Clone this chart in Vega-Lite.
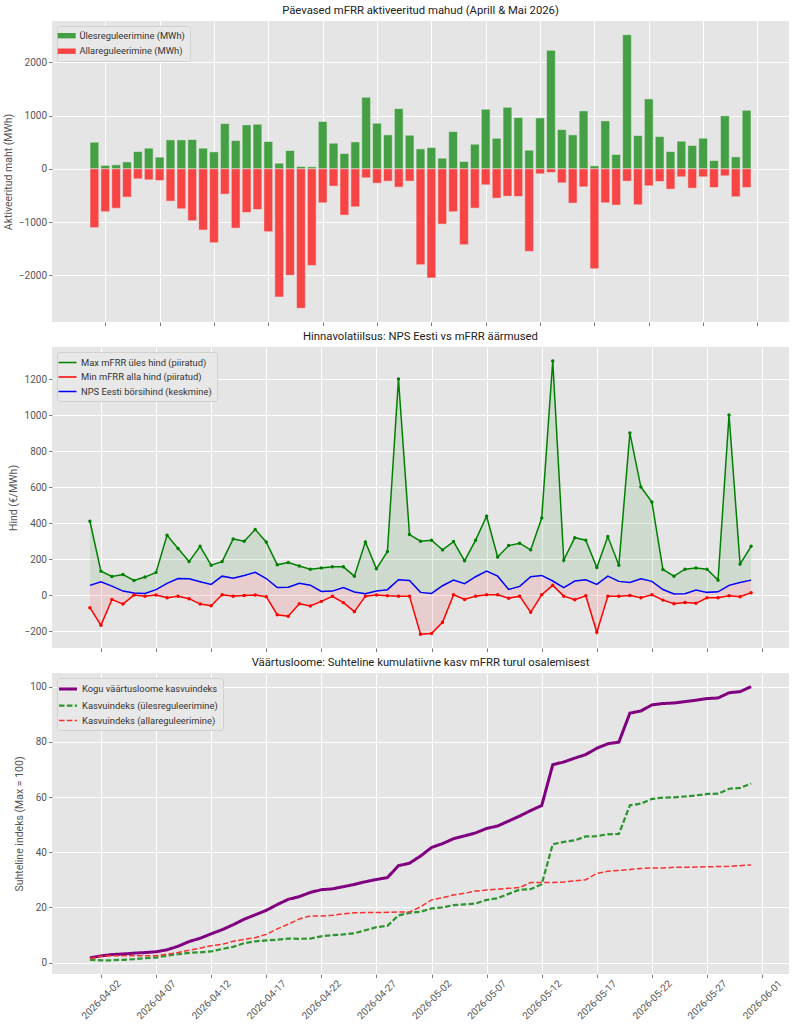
{
  "$schema": "https://vega.github.io/schema/vega-lite/v6.json",
  "background": "white",
  "padding": {"left": 3, "top": 4, "right": 6, "bottom": 2},
  "datasets": {
    "daily": [
      {"d": "2026-04-01", "up": 500, "down": -1105, "pmax": 410, "pmin": -70, "nps": 54, "total": 1.7, "iup": 1.0, "idown": 1.4},
      {"d": "2026-04-02", "up": 65, "down": -805, "pmax": 133, "pmin": -168, "nps": 74, "total": 2.4, "iup": 0.8, "idown": 2.3},
      {"d": "2026-04-03", "up": 75, "down": -740, "pmax": 103, "pmin": -24, "nps": 50, "total": 2.9, "iup": 0.8, "idown": 2.5},
      {"d": "2026-04-04", "up": 130, "down": -530, "pmax": 114, "pmin": -50, "nps": 22, "total": 3.1, "iup": 1.0, "idown": 2.5},
      {"d": "2026-04-05", "up": 325, "down": -188, "pmax": 81, "pmin": 0, "nps": 11, "total": 3.4, "iup": 1.2, "idown": 2.5},
      {"d": "2026-04-06", "up": 388, "down": -206, "pmax": 100, "pmin": -7, "nps": 9, "total": 3.6, "iup": 1.6, "idown": 2.5},
      {"d": "2026-04-07", "up": 219, "down": -219, "pmax": 126, "pmin": 0, "nps": 30, "total": 3.9, "iup": 1.8, "idown": 2.5},
      {"d": "2026-04-08", "up": 544, "down": -606, "pmax": 332, "pmin": -15, "nps": 65, "total": 4.6, "iup": 2.5, "idown": 3.0},
      {"d": "2026-04-09", "up": 544, "down": -750, "pmax": 259, "pmin": -6, "nps": 92, "total": 5.9, "iup": 3.0, "idown": 3.6},
      {"d": "2026-04-10", "up": 550, "down": -975, "pmax": 186, "pmin": -20, "nps": 90, "total": 7.6, "iup": 3.5, "idown": 4.5},
      {"d": "2026-04-11", "up": 388, "down": -1150, "pmax": 271, "pmin": -50, "nps": 74, "total": 8.8, "iup": 3.7, "idown": 5.2},
      {"d": "2026-04-12", "up": 319, "down": -1388, "pmax": 166, "pmin": -59, "nps": 59, "total": 10.4, "iup": 4.0, "idown": 6.1},
      {"d": "2026-04-13", "up": 850, "down": -475, "pmax": 186, "pmin": 2, "nps": 105, "total": 11.9, "iup": 4.9, "idown": 6.6},
      {"d": "2026-04-14", "up": 531, "down": -1113, "pmax": 312, "pmin": -6, "nps": 94, "total": 13.7, "iup": 5.7, "idown": 7.7},
      {"d": "2026-04-15", "up": 825, "down": -819, "pmax": 299, "pmin": -2, "nps": 109, "total": 15.7, "iup": 7.0, "idown": 8.4},
      {"d": "2026-04-16", "up": 838, "down": -763, "pmax": 364, "pmin": 0, "nps": 126, "total": 17.3, "iup": 7.7, "idown": 9.0},
      {"d": "2026-04-17", "up": 513, "down": -1181, "pmax": 295, "pmin": -9, "nps": 92, "total": 18.9, "iup": 8.0, "idown": 10.2},
      {"d": "2026-04-18", "up": 106, "down": -2406, "pmax": 168, "pmin": -109, "nps": 42, "total": 21.0, "iup": 8.3, "idown": 12.2},
      {"d": "2026-04-19", "up": 344, "down": -2000, "pmax": 181, "pmin": -118, "nps": 44, "total": 22.9, "iup": 8.7, "idown": 13.9},
      {"d": "2026-04-20", "up": 44, "down": -2619, "pmax": 162, "pmin": -48, "nps": 66, "total": 23.9, "iup": 8.6, "idown": 15.8},
      {"d": "2026-04-21", "up": 38, "down": -1813, "pmax": 144, "pmin": -61, "nps": 55, "total": 25.4, "iup": 8.7, "idown": 16.9},
      {"d": "2026-04-22", "up": 888, "down": -638, "pmax": 151, "pmin": -35, "nps": 20, "total": 26.4, "iup": 9.5, "idown": 16.9},
      {"d": "2026-04-23", "up": 481, "down": -325, "pmax": 157, "pmin": -7, "nps": 22, "total": 26.7, "iup": 9.9, "idown": 17.1},
      {"d": "2026-04-24", "up": 288, "down": -869, "pmax": 157, "pmin": -42, "nps": 42, "total": 27.5, "iup": 10.2, "idown": 17.7},
      {"d": "2026-04-25", "up": 506, "down": -713, "pmax": 105, "pmin": -92, "nps": 17, "total": 28.3, "iup": 10.6, "idown": 18.0},
      {"d": "2026-04-26", "up": 1344, "down": -169, "pmax": 295, "pmin": -6, "nps": 7, "total": 29.3, "iup": 11.7, "idown": 18.1},
      {"d": "2026-04-27", "up": 856, "down": -269, "pmax": 146, "pmin": 0, "nps": 22, "total": 30.1, "iup": 12.8, "idown": 18.1},
      {"d": "2026-04-28", "up": 638, "down": -231, "pmax": 242, "pmin": -4, "nps": 30, "total": 30.8, "iup": 13.3, "idown": 18.2},
      {"d": "2026-04-29", "up": 1131, "down": -344, "pmax": 1200, "pmin": -6, "nps": 85, "total": 35.1, "iup": 17.1, "idown": 18.3},
      {"d": "2026-04-30", "up": 631, "down": -231, "pmax": 336, "pmin": -6, "nps": 81, "total": 36.0, "iup": 18.0, "idown": 18.3},
      {"d": "2026-05-01", "up": 375, "down": -1800, "pmax": 299, "pmin": -218, "nps": 15, "total": 38.6, "iup": 18.4, "idown": 20.2},
      {"d": "2026-05-02", "up": 400, "down": -2050, "pmax": 305, "pmin": -214, "nps": 9, "total": 41.7, "iup": 19.6, "idown": 22.7},
      {"d": "2026-05-03", "up": 200, "down": -1038, "pmax": 251, "pmin": -151, "nps": 52, "total": 43.1, "iup": 20.0, "idown": 23.5},
      {"d": "2026-05-04", "up": 700, "down": -806, "pmax": 297, "pmin": 2, "nps": 83, "total": 44.9, "iup": 20.8, "idown": 24.5},
      {"d": "2026-05-05", "up": 138, "down": -1425, "pmax": 190, "pmin": -24, "nps": 63, "total": 45.9, "iup": 21.1, "idown": 25.1},
      {"d": "2026-05-06", "up": 463, "down": -738, "pmax": 305, "pmin": -6, "nps": 102, "total": 47.0, "iup": 21.4, "idown": 25.9},
      {"d": "2026-05-07", "up": 1119, "down": -300, "pmax": 438, "pmin": 2, "nps": 133, "total": 48.6, "iup": 22.7, "idown": 26.3},
      {"d": "2026-05-08", "up": 575, "down": -550, "pmax": 212, "pmin": 2, "nps": 105, "total": 49.5, "iup": 23.3, "idown": 26.6},
      {"d": "2026-05-09", "up": 1156, "down": -513, "pmax": 275, "pmin": -18, "nps": 31, "total": 51.3, "iup": 24.9, "idown": 26.9},
      {"d": "2026-05-10", "up": 963, "down": -519, "pmax": 288, "pmin": -6, "nps": 48, "total": 53.1, "iup": 26.4, "idown": 27.2},
      {"d": "2026-05-11", "up": 350, "down": -1550, "pmax": 251, "pmin": -96, "nps": 102, "total": 55.1, "iup": 26.6, "idown": 29.0},
      {"d": "2026-05-12", "up": 956, "down": -94, "pmax": 428, "pmin": 2, "nps": 109, "total": 56.9, "iup": 28.4, "idown": 29.0},
      {"d": "2026-05-13", "up": 2225, "down": -69, "pmax": 1300, "pmin": 54, "nps": 78, "total": 71.7, "iup": 42.9, "idown": 29.0},
      {"d": "2026-05-14", "up": 738, "down": -263, "pmax": 194, "pmin": -6, "nps": 41, "total": 72.7, "iup": 43.7, "idown": 29.2},
      {"d": "2026-05-15", "up": 638, "down": -644, "pmax": 319, "pmin": -26, "nps": 78, "total": 74.1, "iup": 44.3, "idown": 29.6},
      {"d": "2026-05-16", "up": 1088, "down": -338, "pmax": 305, "pmin": -4, "nps": 85, "total": 75.4, "iup": 45.7, "idown": 30.0},
      {"d": "2026-05-17", "up": 56, "down": -1875, "pmax": 153, "pmin": -207, "nps": 59, "total": 77.7, "iup": 45.8, "idown": 32.3},
      {"d": "2026-05-18", "up": 900, "down": -638, "pmax": 325, "pmin": -6, "nps": 105, "total": 79.3, "iup": 46.5, "idown": 33.1},
      {"d": "2026-05-19", "up": 269, "down": -681, "pmax": 166, "pmin": -6, "nps": 76, "total": 79.9, "iup": 46.6, "idown": 33.4},
      {"d": "2026-05-20", "up": 2519, "down": -231, "pmax": 900, "pmin": -2, "nps": 70, "total": 90.4, "iup": 57.0, "idown": 33.7},
      {"d": "2026-05-21", "up": 625, "down": -675, "pmax": 600, "pmin": -15, "nps": 90, "total": 91.2, "iup": 57.6, "idown": 34.1},
      {"d": "2026-05-22", "up": 1313, "down": -319, "pmax": 517, "pmin": 2, "nps": 76, "total": 93.4, "iup": 59.3, "idown": 34.3},
      {"d": "2026-05-23", "up": 606, "down": -238, "pmax": 142, "pmin": -28, "nps": 31, "total": 93.9, "iup": 59.8, "idown": 34.3},
      {"d": "2026-05-24", "up": 325, "down": -381, "pmax": 105, "pmin": -48, "nps": 6, "total": 94.1, "iup": 59.9, "idown": 34.5},
      {"d": "2026-05-25", "up": 519, "down": -150, "pmax": 144, "pmin": -41, "nps": 7, "total": 94.6, "iup": 60.2, "idown": 34.5},
      {"d": "2026-05-26", "up": 438, "down": -363, "pmax": 150, "pmin": -46, "nps": 28, "total": 95.1, "iup": 60.6, "idown": 34.6},
      {"d": "2026-05-27", "up": 575, "down": -150, "pmax": 144, "pmin": -15, "nps": 15, "total": 95.7, "iup": 61.1, "idown": 34.7},
      {"d": "2026-05-28", "up": 156, "down": -350, "pmax": 83, "pmin": -15, "nps": 18, "total": 95.9, "iup": 61.2, "idown": 34.8},
      {"d": "2026-05-29", "up": 994, "down": -131, "pmax": 1000, "pmin": -4, "nps": 54, "total": 97.8, "iup": 63.0, "idown": 34.9},
      {"d": "2026-05-30", "up": 225, "down": -525, "pmax": 172, "pmin": -9, "nps": 70, "total": 98.2, "iup": 63.3, "idown": 35.1},
      {"d": "2026-05-31", "up": 1100, "down": -350, "pmax": 271, "pmin": 13, "nps": 83, "total": 100, "iup": 64.9, "idown": 35.4}
    ]
  },
  "data": {"name": "daily"},
  "spacing": 25,
  "bounds": "flush",
  "vconcat": [
    {
      "width": 737,
      "height": 301,
      "title": "Päevased mFRR aktiveeritud mahud (Aprill & Mai 2026)",
      "transform": [{"fold": ["up", "down"], "as": ["s", "v"]}],
      "mark": {"type": "bar", "width": 8.8, "stroke": "#EEEEEE", "strokeWidth": 0.5},
      "encoding": {
        "x": {
          "field": "d", "type": "temporal",
          "scale": {"type": "utc", "domain": [
            {"year": 2026, "month": 3, "date": 28, "hours": 13, "minutes": 26, "utc": true},
            {"year": 2026, "month": 6, "date": 3, "hours": 10, "minutes": 34, "utc": true}]},
          "axis": {"title": null, "labels": false, "values": [
            {"year": 2026, "month": 4, "date": 2, "utc": true}, {"year": 2026, "month": 4, "date": 7, "utc": true},
            {"year": 2026, "month": 4, "date": 12, "utc": true}, {"year": 2026, "month": 4, "date": 17, "utc": true},
            {"year": 2026, "month": 4, "date": 22, "utc": true}, {"year": 2026, "month": 4, "date": 27, "utc": true},
            {"year": 2026, "month": 5, "date": 2, "utc": true}, {"year": 2026, "month": 5, "date": 7, "utc": true},
            {"year": 2026, "month": 5, "date": 12, "utc": true}, {"year": 2026, "month": 5, "date": 17, "utc": true},
            {"year": 2026, "month": 5, "date": 22, "utc": true}, {"year": 2026, "month": 5, "date": 27, "utc": true},
            {"year": 2026, "month": 6, "date": 1, "utc": true}]}
        },
        "y": {
          "field": "v", "type": "quantitative", "stack": null,
          "scale": {"domain": [-2876, 2776], "nice": false, "zero": false},
          "axis": {"title": "Aktiveeritud maht (MWh)", "format": "d", "values": [-2000, -1000, 0, 1000, 2000]}
        },
        "color": {
          "field": "s", "type": "nominal",
          "scale": {"domain": ["up", "down"], "range": ["#45A045", "#F74545"]},
          "legend": {
            "title": null,
            "symbolType": "M-2,-0.6H2V0.6H-2Z",
            "symbolStrokeWidth": 0,
            "labelExpr": "datum.label == 'up' ? 'Ülesreguleerimine (MWh)' : 'Allareguleerimine (MWh)'"
          }
        }
      }
    },
    {
      "width": 737,
      "height": 301,
      "title": "Hinnavolatiilsus: NPS Eesti vs mFRR äärmused",
      "encoding": {
        "x": {
          "field": "d", "type": "temporal",
          "scale": {"type": "utc", "domain": [
            {"year": 2026, "month": 3, "date": 28, "hours": 13, "minutes": 26, "utc": true},
            {"year": 2026, "month": 6, "date": 3, "hours": 10, "minutes": 34, "utc": true}]},
          "axis": {"title": null, "labels": false, "values": [
            {"year": 2026, "month": 4, "date": 2, "utc": true}, {"year": 2026, "month": 4, "date": 7, "utc": true},
            {"year": 2026, "month": 4, "date": 12, "utc": true}, {"year": 2026, "month": 4, "date": 17, "utc": true},
            {"year": 2026, "month": 4, "date": 22, "utc": true}, {"year": 2026, "month": 4, "date": 27, "utc": true},
            {"year": 2026, "month": 5, "date": 2, "utc": true}, {"year": 2026, "month": 5, "date": 7, "utc": true},
            {"year": 2026, "month": 5, "date": 12, "utc": true}, {"year": 2026, "month": 5, "date": 17, "utc": true},
            {"year": 2026, "month": 5, "date": 22, "utc": true}, {"year": 2026, "month": 5, "date": 27, "utc": true},
            {"year": 2026, "month": 6, "date": 1, "utc": true}]}
        }
      },
      "layer": [
        {
          "mark": {"type": "area", "color": "#008000", "opacity": 0.1},
          "encoding": {
            "y": {"field": "pmax", "type": "quantitative",
              "scale": {"domain": [-294, 1378], "nice": false, "zero": false},
              "axis": {"title": "Hind (€/MWh)", "format": "d", "values": [-200, 0, 200, 400, 600, 800, 1000, 1200]}},
            "y2": {"field": "nps"}
          }
        },
        {
          "mark": {"type": "area", "color": "#FF0000", "opacity": 0.1},
          "encoding": {
            "y": {"field": "nps", "type": "quantitative"},
            "y2": {"field": "pmin"}
          }
        },
        {
          "transform": [{"fold": ["pmax", "pmin", "nps"], "as": ["k", "p"]}],
          "mark": {"type": "line"},
          "encoding": {
            "y": {"field": "p", "type": "quantitative"},
            "color": {
              "field": "k", "type": "nominal",
              "scale": {"domain": ["pmax", "pmin", "nps"], "range": ["#008000", "#FF0000", "#0000FF"]},
              "legend": {
                "title": null, "symbolType": "M-2,0H2",
                "labelExpr": "datum.label == 'pmax' ? 'Max mFRR üles hind (piiratud)' : datum.label == 'pmin' ? 'Min mFRR alla hind (piiratud)' : 'NPS Eesti börsihind (keskmine)'"
              }
            },
            "strokeWidth": {
              "field": "k", "type": "nominal",
              "scale": {"domain": ["pmax", "pmin", "nps"], "range": [1.5, 1.5, 2]},
              "legend": {
                "title": null, "symbolType": "M-2,0H2",
                "labelExpr": "datum.label == 'pmax' ? 'Max mFRR üles hind (piiratud)' : datum.label == 'pmin' ? 'Min mFRR alla hind (piiratud)' : 'NPS Eesti börsihind (keskmine)'"
              }
            }
          }
        },
        {
          "mark": {"type": "point", "filled": true, "opacity": 1, "size": 12, "color": "#008000"},
          "encoding": {"y": {"field": "pmax", "type": "quantitative"}}
        },
        {
          "mark": {"type": "point", "filled": true, "opacity": 1, "size": 12, "color": "#FF0000"},
          "encoding": {"y": {"field": "pmin", "type": "quantitative"}}
        }
      ]
    },
    {
      "width": 737,
      "height": 301,
      "title": "Väärtusloome: Suhteline kumulatiivne kasv mFRR turul osalemisest",
      "transform": [{"fold": ["total", "iup", "idown"], "as": ["k", "i"]}],
      "mark": {"type": "line"},
      "encoding": {
        "x": {
          "field": "d", "type": "temporal",
          "scale": {"type": "utc", "domain": [
            {"year": 2026, "month": 3, "date": 28, "hours": 13, "minutes": 26, "utc": true},
            {"year": 2026, "month": 6, "date": 3, "hours": 10, "minutes": 34, "utc": true}]},
          "axis": {
            "title": null, "format": "%Y-%m-%d",
            "labelAngle": -45, "labelAlign": "center", "labelBaseline": "middle",
            "labelPadding": 22, "labelOverlap": false, "labelFlush": false,
            "values": [
            {"year": 2026, "month": 4, "date": 2, "utc": true}, {"year": 2026, "month": 4, "date": 7, "utc": true},
            {"year": 2026, "month": 4, "date": 12, "utc": true}, {"year": 2026, "month": 4, "date": 17, "utc": true},
            {"year": 2026, "month": 4, "date": 22, "utc": true}, {"year": 2026, "month": 4, "date": 27, "utc": true},
            {"year": 2026, "month": 5, "date": 2, "utc": true}, {"year": 2026, "month": 5, "date": 7, "utc": true},
            {"year": 2026, "month": 5, "date": 12, "utc": true}, {"year": 2026, "month": 5, "date": 17, "utc": true},
            {"year": 2026, "month": 5, "date": 22, "utc": true}, {"year": 2026, "month": 5, "date": 27, "utc": true},
            {"year": 2026, "month": 6, "date": 1, "utc": true}]}
        },
        "y": {
          "field": "i", "type": "quantitative",
          "scale": {"domain": [-4.16, 104.96], "nice": false, "zero": false},
          "axis": {"title": "Suhteline indeks (Max = 100)", "format": "d", "values": [0, 20, 40, 60, 80, 100]}
        },
        "color": {
          "field": "k", "type": "nominal",
          "scale": {"domain": ["total", "iup", "idown"], "range": ["#800080", "#2E952E", "#F83030"]},
          "legend": {
            "title": null, "symbolType": "M-2,0H2",
            "labelExpr": "datum.label == 'total' ? 'Kogu väärtusloome kasvuindeks' : datum.label == 'iup' ? 'Kasvuindeks (ülesreguleerimine)' : 'Kasvuindeks (allareguleerimine)'"
          }
        },
        "strokeDash": {
          "field": "k", "type": "nominal",
          "scale": {"domain": ["total", "iup", "idown"], "range": [[1, 0], [5.5, 2.4], [5.5, 2.4]]},
          "legend": {
            "title": null, "symbolType": "M-2,0H2",
            "labelExpr": "datum.label == 'total' ? 'Kogu väärtusloome kasvuindeks' : datum.label == 'iup' ? 'Kasvuindeks (ülesreguleerimine)' : 'Kasvuindeks (allareguleerimine)'"
          }
        },
        "strokeWidth": {
          "field": "k", "type": "nominal",
          "scale": {"domain": ["total", "iup", "idown"], "range": [3, 1.5, 1.5]},
          "legend": {
            "title": null, "symbolType": "M-2,0H2",
            "labelExpr": "datum.label == 'total' ? 'Kogu väärtusloome kasvuindeks' : datum.label == 'iup' ? 'Kasvuindeks (ülesreguleerimine)' : 'Kasvuindeks (allareguleerimine)'"
          }
        }
      }
    }
  ],
  "resolve": {
    "scale": {"color": "independent", "strokeWidth": "independent", "strokeDash": "independent"},
    "legend": {"color": "independent", "strokeWidth": "independent", "strokeDash": "independent"}
  },
  "config": {
    "font": "Roboto",
    "view": {"fill": "#E5E5E5", "stroke": null},
    "axis": {
      "grid": true, "gridColor": "#FFFFFF", "gridWidth": 1, "domain": false,
      "tickColor": "#555555", "tickSize": 3.5, "tickWidth": 0.8,
      "labelColor": "#555555", "labelFontSize": 10, "labelPadding": 2,
      "titleColor": "#555555", "titleFontSize": 10.5, "titleFontWeight": "normal", "titlePadding": 5
    },
    "title": {"fontSize": 11.3, "fontWeight": "normal", "color": "#222222", "offset": 5},
    "legend": {
      "orient": "top-left", "offset": 5, "fillColor": "#E8E8E8", "strokeColor": "#D0D0D0",
      "padding": 5, "cornerRadius": 3, "labelFontSize": 9.4, "labelColor": "#333333",
      "rowPadding": 4.5, "symbolSize": 81, "labelOffset": 8
    }
  }
}
